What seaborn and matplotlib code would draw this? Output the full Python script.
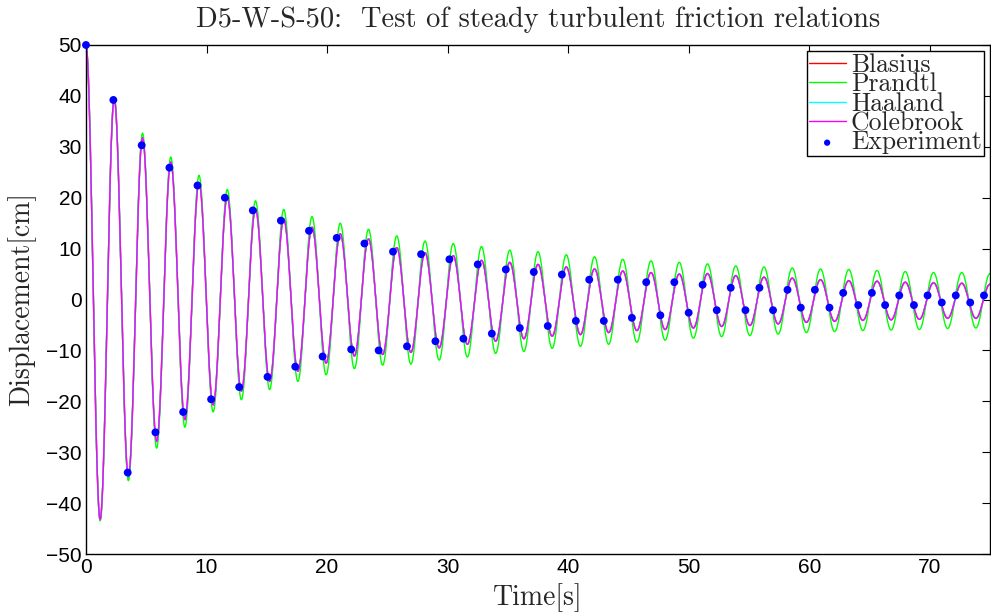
import numpy as np
import pandas as pd
import matplotlib
matplotlib.use("Agg")
import matplotlib.pyplot as plt
import seaborn as sns

# ---------------- data ----------------
x_ticks = [0, 10, 20, 30, 40, 50, 60, 70]
y_ticks = [-50, -40, -30, -20, -10, 0, 10, 20, 30, 40, 50]

# simulated curves: successive extrema (peak, trough, peak, ...), equally spaced in time
half_period = 75.0 / 64  # s, time between successive extrema

colebrook_ext = [50.0, -43.2, 39.5, -34.8, 31.8, -27.9, 27.0, -23.6, 23.0, -20.7,
                 20.2, -18.0, 17.8, -16.1, 15.8, -14.1, 14.2, -12.5, 12.9, -11.1,
                 11.9, -10.8, 10.2, -10.4, 9.2, -9.5, 8.6, -8.8, 7.7, -8.2,
                 7.3, -7.7, 6.9, -7.2, 6.4, -6.9, 6.0, -6.5, 5.6, -6.1,
                 5.3, -5.9, 5.0, -5.6, 5.1, -5.3, 4.7, -5.1, 4.4, -4.8,
                 4.2, -4.5, 3.9, -4.3, 3.7, -4.1, 3.6, -4.0, 3.4, -3.9,
                 3.3, -3.7, 3.2, -3.7, 3.0]
prandtl_ext = [50.0, -43.5, 39.8, -35.6, 32.7, -29.2, 28.0, -25.1, 24.4, -22.1,
               21.6, -19.7, 19.4, -17.7, 17.7, -16.1, 16.3, -14.8, 15.0, -13.6,
               13.8, -12.9, 12.5, -12.7, 11.5, -11.9, 11.0, -11.3, 10.4, -10.6,
               9.7, -10.2, 9.4, -9.6, 8.8, -9.2, 8.4, -8.8, 7.9, -8.4,
               7.6, -8.0, 7.3, -7.6, 7.0, -7.3, 6.6, -7.1, 6.4, -6.8,
               6.2, -6.5, 6.0, -6.3, 5.9, -6.1, 5.7, -6.0, 5.5, -5.9,
               5.3, -5.7, 5.3, -5.6, 5.1]
blasius_ext = list(colebrook_ext)   # indistinguishable from Colebrook in the picture
haaland_ext = list(colebrook_ext)   # indistinguishable from Colebrook in the picture

exp_time = [0.0, 2.27, 3.46, 4.62, 5.76, 6.92, 8.06, 9.25, 10.38, 11.52,
            12.71, 13.84, 15.06, 16.17, 17.36, 18.5, 19.63, 20.8, 22.0, 23.1,
            24.28, 25.47, 26.63, 27.8, 28.99, 30.15, 31.31, 32.5, 33.67, 34.83,
            35.99, 37.15, 38.31, 39.48, 40.64, 41.75, 42.96, 44.12, 45.29, 46.48,
            47.65, 48.81, 50.0, 51.16, 52.33, 53.49, 54.71, 55.87, 57.0, 58.2,
            59.3, 60.47, 61.68, 62.82, 64.07, 65.2, 66.3, 67.47, 68.69, 69.82,
            71.0, 72.16, 73.36, 74.5]
exp_disp = [50.0, 39.2, -34.0, 30.3, -26.1, 25.9, -22.1, 22.4, -19.6, 20.0,
            -17.2, 17.5, -15.2, 15.5, -13.2, 13.5, -11.2, 12.1, -9.8, 11.0,
            -10.0, 9.4, -9.2, 8.9, -8.2, 7.9, -7.7, 6.9, -6.7, 5.9,
            -5.6, 5.4, -5.2, 4.9, -4.2, 3.9, -4.2, 3.9, -3.6, 3.4,
            -3.1, 3.4, -2.6, 2.9, -2.1, 2.3, -2.1, 2.3, -2.1, 1.9,
            -1.6, 1.9, -1.6, 1.3, -1.1, 1.3, -1.1, 0.8, -1.1, 0.8,
            -0.6, 0.8, -0.6, 0.8]


def extrema_curve(ext, name):
    """Smooth half-cosine arcs joining the read extrema."""
    s = np.linspace(0.0, 1.0, 40, endpoint=False)
    ts, ys = [], []
    for j in range(len(ext) - 1):
        a, b = ext[j], ext[j + 1]
        ts.append((j + s) * half_period)
        ys.append((a + b) / 2 + (a - b) / 2 * np.cos(np.pi * s))
    ts.append([(len(ext) - 1) * half_period])
    ys.append([ext[-1]])
    return pd.DataFrame({"Time": np.concatenate(ts), "Displacement": np.concatenate(ys),
                         "model": name})


series = [("Blasius", blasius_ext, "#ff0000"),
          ("Prandtl", prandtl_ext, "#00ff00"),
          ("Haaland", haaland_ext, "#00ffff"),
          ("Colebrook", colebrook_ext, "#ff00ff")]

# ---------------- drawing ----------------
sns.set_theme(style="white")
plt.rcParams["font.family"] = ["Liberation Sans", "DejaVu Sans"]
plt.rcParams["axes.unicode_minus"] = True

fig = plt.figure(figsize=(9.91, 6.15), dpi=100)
ax = fig.add_axes([86 / 991, 1 - 554 / 615, (990 - 86) / 991, (554 - 45) / 615])

for name, ext, col in series:
    df = extrema_curve(ext, name)
    sns.lineplot(data=df, x="Time", y="Displacement", color=col, linewidth=1.0,
                 label=name, ax=ax, sort=False, estimator=None)

exp_df = pd.DataFrame({"Time": exp_time, "Displacement": exp_disp})
sns.scatterplot(data=exp_df, x="Time", y="Displacement", color="#0000ff", s=32,
                edgecolor="none", label="Experiment", ax=ax, zorder=5, clip_on=False)

ax.set_xlim(0, 75)
ax.set_ylim(-50, 50)
ax.set_xticks(x_ticks)
ax.set_yticks(y_ticks)
ax.tick_params(direction="in", length=5.5, width=0.8, top=True, right=True,
               labelsize=15, colors="black", pad=3)
for sp in ax.spines.values():
    sp.set_color("black")
    sp.set_linewidth(1.0)
ax.grid(False)

serif = "cmr10"
ax.set_xlabel("Time[s]", fontfamily=serif, fontsize=20, labelpad=4)
ax.set_ylabel("Displacement[cm]", fontfamily=serif, fontsize=20, labelpad=7)
ax.set_title("D5-W-S-50:  Test of steady turbulent friction relations",
             fontfamily=serif, fontsize=20.5, pad=13)

leg = ax.legend(loc="upper right", prop={"family": serif, "size": 18.5},
                frameon=True, fancybox=False, edgecolor="black", framealpha=1,
                handlelength=1.45, handletextpad=0.2, labelspacing=-0.17,
                borderpad=0.07, borderaxespad=0.25, markerscale=0.8)
leg.get_frame().set_linewidth(1.0)

fig.savefig("out.png", dpi=100)
